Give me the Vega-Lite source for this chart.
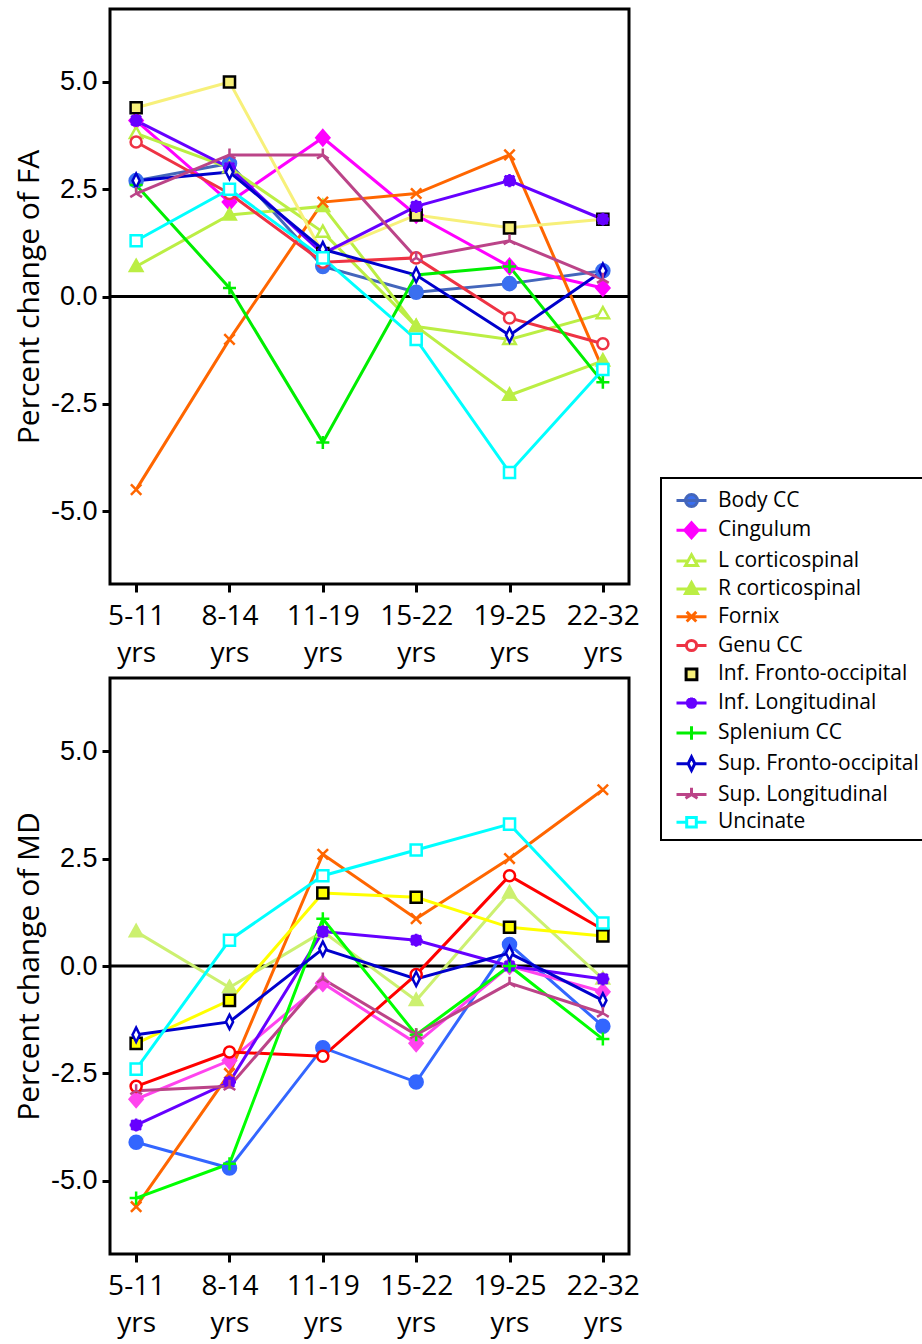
{
  "$schema": "https://vega.github.io/schema/vega-lite/v6.json",
  "background": "white",
  "padding": {"left": 12, "top": 7, "right": 0, "bottom": 0},
  "datasets": {
    "fa": [
      {"tract": "Body CC", "stage": "5-11 yrs", "value": 2.7}, {"tract": "Body CC", "stage": "8-14 yrs", "value": 3.1}, {"tract": "Body CC", "stage": "11-19 yrs", "value": 0.7}, {"tract": "Body CC", "stage": "15-22 yrs", "value": 0.1}, {"tract": "Body CC", "stage": "19-25 yrs", "value": 0.3}, {"tract": "Body CC", "stage": "22-32 yrs", "value": 0.6},
      {"tract": "Cingulum", "stage": "5-11 yrs", "value": 4.1}, {"tract": "Cingulum", "stage": "8-14 yrs", "value": 2.2}, {"tract": "Cingulum", "stage": "11-19 yrs", "value": 3.7}, {"tract": "Cingulum", "stage": "15-22 yrs", "value": 1.9}, {"tract": "Cingulum", "stage": "19-25 yrs", "value": 0.7}, {"tract": "Cingulum", "stage": "22-32 yrs", "value": 0.2},
      {"tract": "L corticospinal", "stage": "5-11 yrs", "value": 3.8}, {"tract": "L corticospinal", "stage": "8-14 yrs", "value": 3.0}, {"tract": "L corticospinal", "stage": "11-19 yrs", "value": 1.5}, {"tract": "L corticospinal", "stage": "15-22 yrs", "value": -0.7}, {"tract": "L corticospinal", "stage": "19-25 yrs", "value": -1.0}, {"tract": "L corticospinal", "stage": "22-32 yrs", "value": -0.4},
      {"tract": "R corticospinal", "stage": "5-11 yrs", "value": 0.7}, {"tract": "R corticospinal", "stage": "8-14 yrs", "value": 1.9}, {"tract": "R corticospinal", "stage": "11-19 yrs", "value": 2.1}, {"tract": "R corticospinal", "stage": "15-22 yrs", "value": -0.7}, {"tract": "R corticospinal", "stage": "19-25 yrs", "value": -2.3}, {"tract": "R corticospinal", "stage": "22-32 yrs", "value": -1.5},
      {"tract": "Fornix", "stage": "5-11 yrs", "value": -4.5}, {"tract": "Fornix", "stage": "8-14 yrs", "value": -1.0}, {"tract": "Fornix", "stage": "11-19 yrs", "value": 2.2}, {"tract": "Fornix", "stage": "15-22 yrs", "value": 2.4}, {"tract": "Fornix", "stage": "19-25 yrs", "value": 3.3}, {"tract": "Fornix", "stage": "22-32 yrs", "value": -1.7},
      {"tract": "Genu CC", "stage": "5-11 yrs", "value": 3.6}, {"tract": "Genu CC", "stage": "8-14 yrs", "value": 2.4}, {"tract": "Genu CC", "stage": "11-19 yrs", "value": 0.8}, {"tract": "Genu CC", "stage": "15-22 yrs", "value": 0.9}, {"tract": "Genu CC", "stage": "19-25 yrs", "value": -0.5}, {"tract": "Genu CC", "stage": "22-32 yrs", "value": -1.1},
      {"tract": "Inf. Fronto-occipital", "stage": "5-11 yrs", "value": 4.4}, {"tract": "Inf. Fronto-occipital", "stage": "8-14 yrs", "value": 5.0}, {"tract": "Inf. Fronto-occipital", "stage": "11-19 yrs", "value": 1.0}, {"tract": "Inf. Fronto-occipital", "stage": "15-22 yrs", "value": 1.9}, {"tract": "Inf. Fronto-occipital", "stage": "19-25 yrs", "value": 1.6}, {"tract": "Inf. Fronto-occipital", "stage": "22-32 yrs", "value": 1.8},
      {"tract": "Inf. Longitudinal", "stage": "5-11 yrs", "value": 4.1}, {"tract": "Inf. Longitudinal", "stage": "8-14 yrs", "value": 3.0}, {"tract": "Inf. Longitudinal", "stage": "11-19 yrs", "value": 1.0}, {"tract": "Inf. Longitudinal", "stage": "15-22 yrs", "value": 2.1}, {"tract": "Inf. Longitudinal", "stage": "19-25 yrs", "value": 2.7}, {"tract": "Inf. Longitudinal", "stage": "22-32 yrs", "value": 1.8},
      {"tract": "Splenium CC", "stage": "5-11 yrs", "value": 2.6}, {"tract": "Splenium CC", "stage": "8-14 yrs", "value": 0.2}, {"tract": "Splenium CC", "stage": "11-19 yrs", "value": -3.4}, {"tract": "Splenium CC", "stage": "15-22 yrs", "value": 0.5}, {"tract": "Splenium CC", "stage": "19-25 yrs", "value": 0.7}, {"tract": "Splenium CC", "stage": "22-32 yrs", "value": -2.0},
      {"tract": "Sup. Fronto-occipital", "stage": "5-11 yrs", "value": 2.7}, {"tract": "Sup. Fronto-occipital", "stage": "8-14 yrs", "value": 2.9}, {"tract": "Sup. Fronto-occipital", "stage": "11-19 yrs", "value": 1.1}, {"tract": "Sup. Fronto-occipital", "stage": "15-22 yrs", "value": 0.5}, {"tract": "Sup. Fronto-occipital", "stage": "19-25 yrs", "value": -0.9}, {"tract": "Sup. Fronto-occipital", "stage": "22-32 yrs", "value": 0.6},
      {"tract": "Sup. Longitudinal", "stage": "5-11 yrs", "value": 2.4}, {"tract": "Sup. Longitudinal", "stage": "8-14 yrs", "value": 3.3}, {"tract": "Sup. Longitudinal", "stage": "11-19 yrs", "value": 3.3}, {"tract": "Sup. Longitudinal", "stage": "15-22 yrs", "value": 0.9}, {"tract": "Sup. Longitudinal", "stage": "19-25 yrs", "value": 1.3}, {"tract": "Sup. Longitudinal", "stage": "22-32 yrs", "value": 0.4},
      {"tract": "Uncinate", "stage": "5-11 yrs", "value": 1.3}, {"tract": "Uncinate", "stage": "8-14 yrs", "value": 2.5}, {"tract": "Uncinate", "stage": "11-19 yrs", "value": 0.9}, {"tract": "Uncinate", "stage": "15-22 yrs", "value": -1.0}, {"tract": "Uncinate", "stage": "19-25 yrs", "value": -4.1}, {"tract": "Uncinate", "stage": "22-32 yrs", "value": -1.7}
    ],
    "md": [
      {"tract": "Body CC", "stage": "5-11 yrs", "value": -4.1}, {"tract": "Body CC", "stage": "8-14 yrs", "value": -4.7}, {"tract": "Body CC", "stage": "11-19 yrs", "value": -1.9}, {"tract": "Body CC", "stage": "15-22 yrs", "value": -2.7}, {"tract": "Body CC", "stage": "19-25 yrs", "value": 0.5}, {"tract": "Body CC", "stage": "22-32 yrs", "value": -1.4},
      {"tract": "Cingulum", "stage": "5-11 yrs", "value": -3.1}, {"tract": "Cingulum", "stage": "8-14 yrs", "value": -2.2}, {"tract": "Cingulum", "stage": "11-19 yrs", "value": -0.4}, {"tract": "Cingulum", "stage": "15-22 yrs", "value": -1.8}, {"tract": "Cingulum", "stage": "19-25 yrs", "value": 0.0}, {"tract": "Cingulum", "stage": "22-32 yrs", "value": -0.6},
      {"tract": "L corticospinal", "stage": "5-11 yrs", "value": 0.8}, {"tract": "L corticospinal", "stage": "8-14 yrs", "value": -0.5}, {"tract": "L corticospinal", "stage": "11-19 yrs", "value": 0.8}, {"tract": "L corticospinal", "stage": "15-22 yrs", "value": -0.8}, {"tract": "L corticospinal", "stage": "19-25 yrs", "value": 1.7}, {"tract": "L corticospinal", "stage": "22-32 yrs", "value": -0.3},
      {"tract": "Fornix", "stage": "5-11 yrs", "value": -5.6}, {"tract": "Fornix", "stage": "8-14 yrs", "value": -2.5}, {"tract": "Fornix", "stage": "11-19 yrs", "value": 2.6}, {"tract": "Fornix", "stage": "15-22 yrs", "value": 1.1}, {"tract": "Fornix", "stage": "19-25 yrs", "value": 2.5}, {"tract": "Fornix", "stage": "22-32 yrs", "value": 4.1},
      {"tract": "Genu CC", "stage": "5-11 yrs", "value": -2.8}, {"tract": "Genu CC", "stage": "8-14 yrs", "value": -2.0}, {"tract": "Genu CC", "stage": "11-19 yrs", "value": -2.1}, {"tract": "Genu CC", "stage": "15-22 yrs", "value": -0.2}, {"tract": "Genu CC", "stage": "19-25 yrs", "value": 2.1}, {"tract": "Genu CC", "stage": "22-32 yrs", "value": 0.85},
      {"tract": "Inf. Fronto-occipital", "stage": "5-11 yrs", "value": -1.8}, {"tract": "Inf. Fronto-occipital", "stage": "8-14 yrs", "value": -0.8}, {"tract": "Inf. Fronto-occipital", "stage": "11-19 yrs", "value": 1.7}, {"tract": "Inf. Fronto-occipital", "stage": "15-22 yrs", "value": 1.6}, {"tract": "Inf. Fronto-occipital", "stage": "19-25 yrs", "value": 0.9}, {"tract": "Inf. Fronto-occipital", "stage": "22-32 yrs", "value": 0.7},
      {"tract": "Inf. Longitudinal", "stage": "5-11 yrs", "value": -3.7}, {"tract": "Inf. Longitudinal", "stage": "8-14 yrs", "value": -2.7}, {"tract": "Inf. Longitudinal", "stage": "11-19 yrs", "value": 0.8}, {"tract": "Inf. Longitudinal", "stage": "15-22 yrs", "value": 0.6}, {"tract": "Inf. Longitudinal", "stage": "19-25 yrs", "value": 0.0}, {"tract": "Inf. Longitudinal", "stage": "22-32 yrs", "value": -0.3},
      {"tract": "Splenium CC", "stage": "5-11 yrs", "value": -5.4}, {"tract": "Splenium CC", "stage": "8-14 yrs", "value": -4.6}, {"tract": "Splenium CC", "stage": "11-19 yrs", "value": 1.1}, {"tract": "Splenium CC", "stage": "15-22 yrs", "value": -1.6}, {"tract": "Splenium CC", "stage": "19-25 yrs", "value": 0.0}, {"tract": "Splenium CC", "stage": "22-32 yrs", "value": -1.7},
      {"tract": "Sup. Fronto-occipital", "stage": "5-11 yrs", "value": -1.6}, {"tract": "Sup. Fronto-occipital", "stage": "8-14 yrs", "value": -1.3}, {"tract": "Sup. Fronto-occipital", "stage": "11-19 yrs", "value": 0.4}, {"tract": "Sup. Fronto-occipital", "stage": "15-22 yrs", "value": -0.3}, {"tract": "Sup. Fronto-occipital", "stage": "19-25 yrs", "value": 0.3}, {"tract": "Sup. Fronto-occipital", "stage": "22-32 yrs", "value": -0.8},
      {"tract": "Sup. Longitudinal", "stage": "5-11 yrs", "value": -2.9}, {"tract": "Sup. Longitudinal", "stage": "8-14 yrs", "value": -2.8}, {"tract": "Sup. Longitudinal", "stage": "11-19 yrs", "value": -0.3}, {"tract": "Sup. Longitudinal", "stage": "15-22 yrs", "value": -1.6}, {"tract": "Sup. Longitudinal", "stage": "19-25 yrs", "value": -0.4}, {"tract": "Sup. Longitudinal", "stage": "22-32 yrs", "value": -1.1},
      {"tract": "Uncinate", "stage": "5-11 yrs", "value": -2.4}, {"tract": "Uncinate", "stage": "8-14 yrs", "value": 0.6}, {"tract": "Uncinate", "stage": "11-19 yrs", "value": 2.1}, {"tract": "Uncinate", "stage": "15-22 yrs", "value": 2.7}, {"tract": "Uncinate", "stage": "19-25 yrs", "value": 3.3}, {"tract": "Uncinate", "stage": "22-32 yrs", "value": 1.0}
    ]
  },
  "config": {
    "view": {"stroke": "black", "strokeWidth": 3},
    "axis": {"grid": false, "domain": false, "tickColor": "black", "tickWidth": 3, "tickSize": 8, "labelColor": "black", "titleColor": "black"},
    "legend": {
      "orient": "none", "legendX": 0, "legendY": 469, "title": null,
      "strokeColor": "black", "strokeWidth": 2, "fillColor": "white", "padding": 6, "cornerRadius": 0,
      "labelFont": "Open Sans", "labelFontSize": 21, "labelColor": "black", "labelLimit": 0,
      "symbolSize": 900, "symbolStrokeWidth": 3, "symbolOffset": 8, "rowPadding": 0.8, "labelOffset": 10
    }
  },
  "spacing": 19,
  "resolve": {"scale": {"color": "independent", "fill": "independent", "stroke": "independent", "shape": "independent", "x": "independent", "y": "independent"}},
  "hconcat": [
    {
      "spacing": 7,
      "resolve": {"scale": {"color": "independent", "fill": "independent", "stroke": "independent", "shape": "independent", "x": "independent", "y": "independent"}},
      "vconcat": [
        {
          "width": 519, "height": 575,
          "data": {"name": "fa"},
          "layer": [
            {
              "data": {"values": [{}]},
              "mark": {"type": "rule", "color": "black", "strokeWidth": 3},
              "encoding": {"y": {"datum": 0, "type": "quantitative"}}
            },
            {
              "mark": {"type": "line", "strokeWidth": 3},
              "encoding": {
                "x": {"field": "stage", "type": "ordinal", "sort": ["5-11 yrs", "8-14 yrs", "11-19 yrs", "15-22 yrs", "19-25 yrs", "22-32 yrs"], "scale": {"type": "point", "padding": 0.28},
                  "axis": {"title": null, "labelExpr": "split(datum.label, ' ')", "labelFont": "Open Sans", "labelFontSize": 28, "labelLineHeight": 37, "labelPadding": 10, "labelAngle": 0}},
                "y": {"field": "value", "type": "quantitative", "scale": {"domain": [-6.7, 6.7], "nice": false, "zero": false},
                  "axis": {"title": "Percent change of FA", "values": [-5, -2.5, 0, 2.5, 5], "labelExpr": "replace(format(datum.value, '.1f'), '\u2212', '-')", "labelFont": "Liberation Sans", "labelFontSize": 27, "labelPadding": 5, "titleFont": "Open Sans", "titleFontSize": 30, "titleFontWeight": "normal", "titlePadding": 6}},
                "color": {"field": "tract", "type": "nominal", "legend": null,
                  "scale": {"domain": ["Body CC", "Cingulum", "L corticospinal", "R corticospinal", "Fornix", "Genu CC", "Inf. Fronto-occipital", "Inf. Longitudinal", "Splenium CC", "Sup. Fronto-occipital", "Sup. Longitudinal", "Uncinate"],
                    "range": ["#4466bb", "#ff00ff", "#bbee44", "#bbee44", "#ff6600", "#ee3344", "#f7f07a", "#6600ff", "#00ee00", "#0000cc", "#bb4488", "#00ffff"]}}
              }
            },
            {
              "mark": {"type": "point", "filled": true, "opacity": 1, "size": 170, "strokeWidth": 2.5},
              "encoding": {
                "x": {"field": "stage", "type": "ordinal", "sort": ["5-11 yrs", "8-14 yrs", "11-19 yrs", "15-22 yrs", "19-25 yrs", "22-32 yrs"]},
                "y": {"field": "value", "type": "quantitative"},
                "shape": {"field": "tract", "type": "nominal", "legend": null,
                  "scale": {"domain": ["Body CC", "Cingulum", "L corticospinal", "R corticospinal", "Fornix", "Genu CC", "Inf. Fronto-occipital", "Inf. Longitudinal", "Splenium CC", "Sup. Fronto-occipital", "Sup. Longitudinal", "Uncinate"],
                    "range": ["M-1,0A1,1,0,1,0,1,0A1,1,0,1,0,-1,0Z", "M0,-1.15L1,0L0,1.15L-1,0Z", "M0,-1L0.95,0.7L-0.95,0.7Z", "M0,-1L0.95,0.7L-0.95,0.7Z", "M-0.8,-0.8L0.8,0.8M-0.8,0.8L0.8,-0.8", "M-0.85,0A0.85,0.85,0,1,0,0.85,0A0.85,0.85,0,1,0,-0.85,0Z", "M-0.85,-0.85L0.85,-0.85L0.85,0.85L-0.85,0.85Z", "M-0.75,0A0.75,0.75,0,1,0,0.75,0A0.75,0.75,0,1,0,-0.75,0ZM0,-1L0,1M-1,0L1,0M-0.75,-0.75L0.75,0.75M-0.75,0.75L0.75,-0.75", "M-1,0L1,0M0,-1L0,1", "M0,-1.1L0.55,0L0,1.1L-0.55,0Z", "M0,0L0,-1M0,0L-0.9,0.55M0,0L0.9,0.55", "M-0.85,-0.85L0.85,-0.85L0.85,0.85L-0.85,0.85Z"]}},
                "fill": {"field": "tract", "type": "nominal", "legend": null,
                  "scale": {"domain": ["Body CC", "Cingulum", "L corticospinal", "R corticospinal", "Fornix", "Genu CC", "Inf. Fronto-occipital", "Inf. Longitudinal", "Splenium CC", "Sup. Fronto-occipital", "Sup. Longitudinal", "Uncinate"],
                    "range": ["#3a6ff0", "#ff00ff", "#ffffff", "#bbee44", "#ff6600", "#ffffff", "#f7f07a", "#6600ff", "#00ee00", "#ffffff", "#bb4488", "#ffffff"]}},
                "stroke": {"field": "tract", "type": "nominal", "legend": null,
                  "scale": {"domain": ["Body CC", "Cingulum", "L corticospinal", "R corticospinal", "Fornix", "Genu CC", "Inf. Fronto-occipital", "Inf. Longitudinal", "Splenium CC", "Sup. Fronto-occipital", "Sup. Longitudinal", "Uncinate"],
                    "range": ["#3a6ff0", "#ff00ff", "#bbee44", "#bbee44", "#ff6600", "#ee3344", "#000000", "#6600ff", "#00ee00", "#0000cc", "#bb4488", "#00ffff"]}}
              }
            }
          ]
        },
        {
          "width": 519, "height": 576,
          "data": {"name": "md"},
          "layer": [
            {
              "data": {"values": [{}]},
              "mark": {"type": "rule", "color": "black", "strokeWidth": 3},
              "encoding": {"y": {"datum": 0, "type": "quantitative"}}
            },
            {
              "mark": {"type": "line", "strokeWidth": 3},
              "encoding": {
                "x": {"field": "stage", "type": "ordinal", "sort": ["5-11 yrs", "8-14 yrs", "11-19 yrs", "15-22 yrs", "19-25 yrs", "22-32 yrs"], "scale": {"type": "point", "padding": 0.28},
                  "axis": {"title": null, "labelExpr": "split(datum.label, ' ')", "labelFont": "Open Sans", "labelFontSize": 28, "labelLineHeight": 37, "labelPadding": 10, "labelAngle": 0}},
                "y": {"field": "value", "type": "quantitative", "scale": {"domain": [-6.7, 6.7], "nice": false, "zero": false},
                  "axis": {"title": "Percent change of MD", "values": [-5, -2.5, 0, 2.5, 5], "labelExpr": "replace(format(datum.value, '.1f'), '\u2212', '-')", "labelFont": "Liberation Sans", "labelFontSize": 27, "labelPadding": 5, "titleFont": "Open Sans", "titleFontSize": 30, "titleFontWeight": "normal", "titlePadding": 6}},
                "color": {"field": "tract", "type": "nominal", "legend": null,
                  "scale": {"domain": ["Body CC", "Cingulum", "L corticospinal", "Fornix", "Genu CC", "Inf. Fronto-occipital", "Inf. Longitudinal", "Splenium CC", "Sup. Fronto-occipital", "Sup. Longitudinal", "Uncinate"],
                    "range": ["#3366ff", "#ff44ee", "#ccf070", "#ff6600", "#ff0000", "#ffff00", "#6600ff", "#00ff00", "#0000cc", "#bb4488", "#00ffff"]}}
              }
            },
            {
              "mark": {"type": "point", "filled": true, "opacity": 1, "size": 170, "strokeWidth": 2.5},
              "encoding": {
                "x": {"field": "stage", "type": "ordinal", "sort": ["5-11 yrs", "8-14 yrs", "11-19 yrs", "15-22 yrs", "19-25 yrs", "22-32 yrs"]},
                "y": {"field": "value", "type": "quantitative"},
                "shape": {"field": "tract", "type": "nominal", "legend": null,
                  "scale": {"domain": ["Body CC", "Cingulum", "L corticospinal", "Fornix", "Genu CC", "Inf. Fronto-occipital", "Inf. Longitudinal", "Splenium CC", "Sup. Fronto-occipital", "Sup. Longitudinal", "Uncinate"],
                    "range": ["M-1,0A1,1,0,1,0,1,0A1,1,0,1,0,-1,0Z", "M0,-1.15L1,0L0,1.15L-1,0Z", "M0,-1L0.95,0.7L-0.95,0.7Z", "M-0.8,-0.8L0.8,0.8M-0.8,0.8L0.8,-0.8", "M-0.85,0A0.85,0.85,0,1,0,0.85,0A0.85,0.85,0,1,0,-0.85,0Z", "M-0.85,-0.85L0.85,-0.85L0.85,0.85L-0.85,0.85Z", "M-0.75,0A0.75,0.75,0,1,0,0.75,0A0.75,0.75,0,1,0,-0.75,0ZM0,-1L0,1M-1,0L1,0M-0.75,-0.75L0.75,0.75M-0.75,0.75L0.75,-0.75", "M-1,0L1,0M0,-1L0,1", "M0,-1.1L0.55,0L0,1.1L-0.55,0Z", "M0,0L0,-1M0,0L-0.9,0.55M0,0L0.9,0.55", "M-0.85,-0.85L0.85,-0.85L0.85,0.85L-0.85,0.85Z"]}},
                "fill": {"field": "tract", "type": "nominal", "legend": null,
                  "scale": {"domain": ["Body CC", "Cingulum", "L corticospinal", "Fornix", "Genu CC", "Inf. Fronto-occipital", "Inf. Longitudinal", "Splenium CC", "Sup. Fronto-occipital", "Sup. Longitudinal", "Uncinate"],
                    "range": ["#3366ff", "#ff44ee", "#ccf070", "#ff6600", "#ffffff", "#ffff00", "#6600ff", "#00ff00", "#ffffff", "#bb4488", "#ffffff"]}},
                "stroke": {"field": "tract", "type": "nominal", "legend": null,
                  "scale": {"domain": ["Body CC", "Cingulum", "L corticospinal", "Fornix", "Genu CC", "Inf. Fronto-occipital", "Inf. Longitudinal", "Splenium CC", "Sup. Fronto-occipital", "Sup. Longitudinal", "Uncinate"],
                    "range": ["#3366ff", "#ff44ee", "#ccf070", "#ff6600", "#ff0000", "#000000", "#6600ff", "#00ff00", "#0000cc", "#bb4488", "#00ffff"]}}
              }
            }
          ]
        }
      ]
    },
    {
      "width": 1, "height": 1,
      "view": {"stroke": null},
      "data": {"values": [{"tract": "Body CC"}]},
      "transform": [{"filter": "false"}],
      "mark": {"type": "point", "filled": true, "opacity": 1, "strokeWidth": 3},
      "encoding": {
        "shape": {"field": "tract", "type": "nominal",
          "scale": {"domain": ["Body CC", "Cingulum", "L corticospinal", "R corticospinal", "Fornix", "Genu CC", "Inf. Fronto-occipital", "Inf. Longitudinal", "Splenium CC", "Sup. Fronto-occipital", "Sup. Longitudinal", "Uncinate"],
            "range": [
              "M-1,0L1,0M-0.4,0A0.4,0.4,0,1,0,0.4,0A0.4,0.4,0,1,0,-0.4,0Z",
              "M-1,0L1,0M0,-0.5L0.45,0L0,0.5L-0.45,0Z",
              "M-1,0L-0.24,0M0.24,0L1,0M0,-0.42L0.4,0.3L-0.4,0.3Z",
              "M-1,0L1,0M0,-0.42L0.4,0.3L-0.4,0.3Z",
              "M-1,0L1,0M-0.32,-0.32L0.32,0.32M-0.32,0.32L0.32,-0.32",
              "M-1,0L-0.34,0M0.34,0L1,0M-0.34,0A0.34,0.34,0,1,0,0.34,0A0.34,0.34,0,1,0,-0.34,0Z",
              "M-0.36,-0.36L0.36,-0.36L0.36,0.36L-0.36,0.36Z",
              "M-1,0L1,0M-0.28,0A0.28,0.28,0,1,0,0.28,0A0.28,0.28,0,1,0,-0.28,0ZM0,-0.38L0,0.38M-0.27,-0.27L0.27,0.27M-0.27,0.27L0.27,-0.27",
              "M-1,0L1,0M0,-0.45L0,0.45",
              "M-1,0L-0.22,0M0.22,0L1,0M0,-0.45L0.22,0L0,0.45L-0.22,0Z",
              "M-1,0L1,0M0,0L0,-0.45M0,0L-0.4,0.25M0,0L0.4,0.25",
              "M-1,0L-0.32,0M0.32,0L1,0M-0.32,-0.32L0.32,-0.32L0.32,0.32L-0.32,0.32Z"
            ]}},
        "fill": {"field": "tract", "type": "nominal",
          "scale": {"domain": ["Body CC", "Cingulum", "L corticospinal", "R corticospinal", "Fornix", "Genu CC", "Inf. Fronto-occipital", "Inf. Longitudinal", "Splenium CC", "Sup. Fronto-occipital", "Sup. Longitudinal", "Uncinate"],
            "range": ["#3a6ff0", "#ff00ff", "#ffffff", "#bbee44", "#ff6600", "#ffffff", "#f7f07a", "#6600ff", "#00ee00", "#ffffff", "#bb4488", "#ffffff"]}},
        "stroke": {"field": "tract", "type": "nominal",
          "scale": {"domain": ["Body CC", "Cingulum", "L corticospinal", "R corticospinal", "Fornix", "Genu CC", "Inf. Fronto-occipital", "Inf. Longitudinal", "Splenium CC", "Sup. Fronto-occipital", "Sup. Longitudinal", "Uncinate"],
            "range": ["#4466bb", "#ff00ff", "#bbee44", "#bbee44", "#ff6600", "#ee3344", "#000000", "#6600ff", "#00ee00", "#0000cc", "#bb4488", "#00ffff"]}}
      }
    }
  ]
}
